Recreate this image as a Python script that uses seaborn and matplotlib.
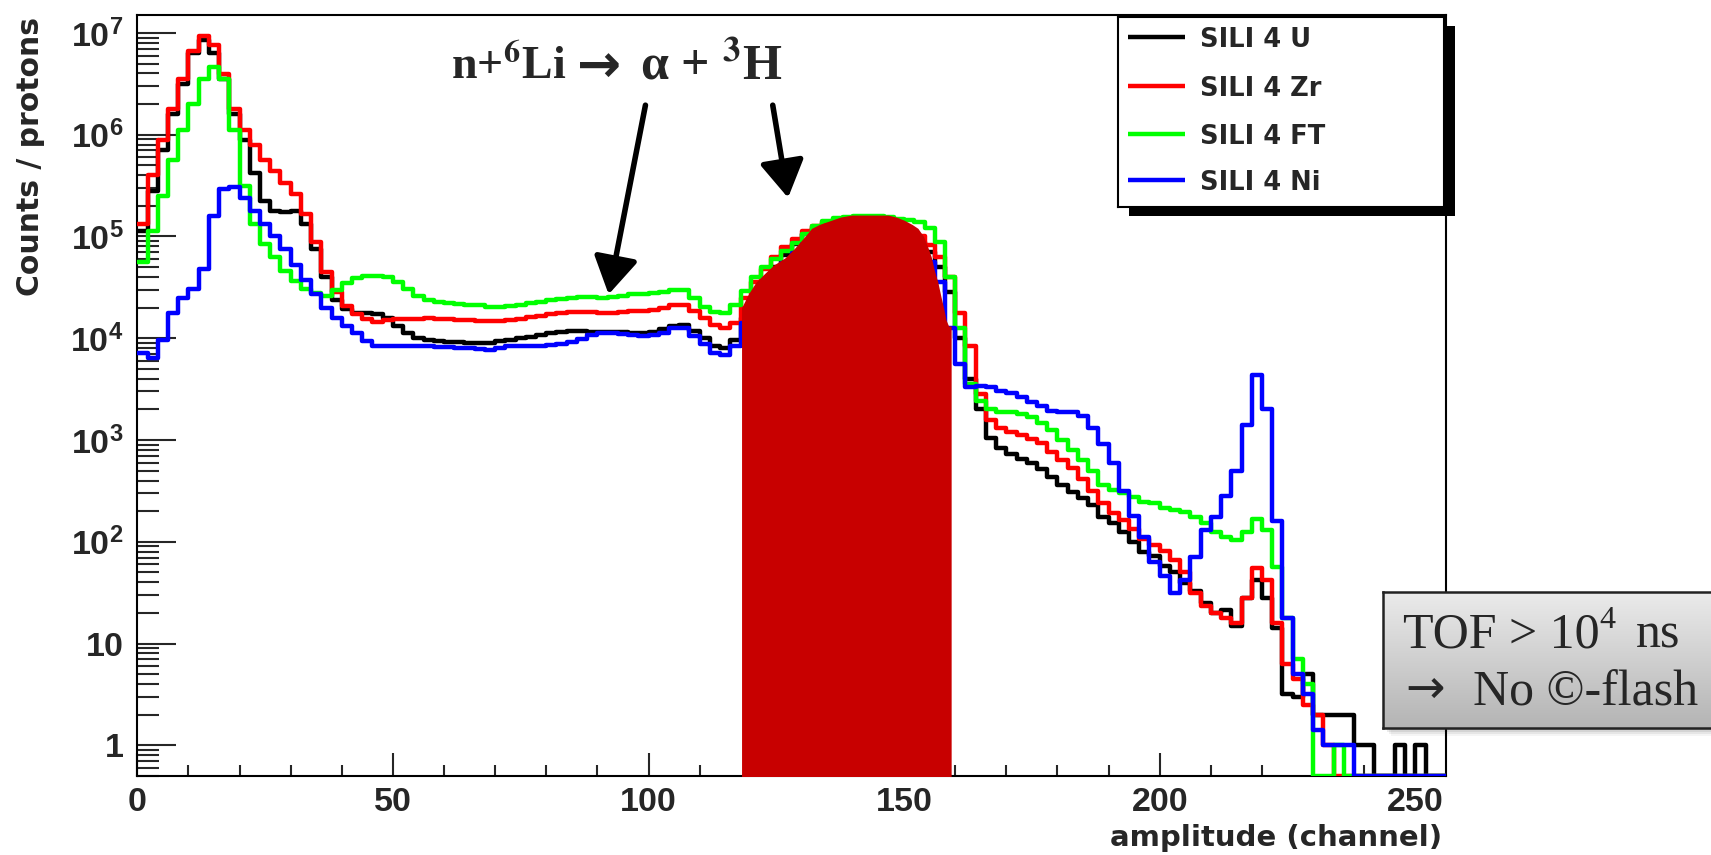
import numpy as np
import pandas as pd
import matplotlib
matplotlib.use("Agg")
import matplotlib.pyplot as plt
import seaborn as sns
from matplotlib.patches import Rectangle
from matplotlib.colors import LinearSegmentedColormap
from matplotlib.ticker import FixedLocator, FixedFormatter, MultipleLocator, LogLocator, NullFormatter

# ---------------- data (log10 of counts/protons per 2-channel bin; None = empty bin) ----------------
Z = None
bin_edges = list(range(0, 257, 2))

u_log = [5.05, 5.45, 5.85, 6.2, 6.5, 6.8, 6.93, 6.8, 6.55, 6.2, 5.95, 5.62, 5.35, 5.25, 5.24, 5.25,
         5.12, 4.88, 4.6, 4.38, 4.29, 4.25, 4.25, 4.24, 4.2, 4.12, 4.05, 4.0, 3.98, 3.97, 3.96, 3.96,
         3.95, 3.95, 3.95, 3.97, 3.98, 4.0, 4.01, 4.03, 4.05, 4.06, 4.07, 4.07, 4.06, 4.06, 4.06, 4.06,
         4.05, 4.05, 4.06, 4.09, 4.12, 4.13, 4.07, 4.0, 3.92, 3.9, 3.98, 4.2, 4.4, 4.55, 4.7, 4.82,
         4.93, 5.02, 5.08, 5.12, 5.14, 5.15, 5.15, 5.15, 5.14, 5.12, 5.08, 5.02, 4.95, 4.85, 4.7, 4.45,
         4.0, 3.6, 3.3, 3.02, 2.92, 2.86, 2.81, 2.77, 2.72, 2.64, 2.56, 2.49, 2.43, 2.36, 2.24, 2.18,
         2.1, 2.0, 1.9, 1.86, 1.76, 1.7, 1.6, 1.52, 1.4, 1.3, 1.33, 1.17, 1.45, 1.62, 1.45, 1.15,
         0.5, 0.48, 0.7, 0.3, 0.3, 0.3, 0.3, 0.0, 0.0, Z, Z, 0.0, Z, 0.0, Z, Z]

zr_log = [5.12, 5.6, 5.95, 6.25, 6.55, 6.82, 6.97, 6.88, 6.6, 6.25, 6.05, 5.9, 5.75, 5.64, 5.53, 5.42,
          5.22, 4.95, 4.65, 4.45, 4.32, 4.24, 4.19, 4.16, 4.18, 4.19, 4.19, 4.19, 4.2, 4.19, 4.19, 4.18,
          4.18, 4.17, 4.17, 4.17, 4.18, 4.19, 4.21, 4.22, 4.24, 4.25, 4.26, 4.26, 4.26, 4.25, 4.25, 4.26,
          4.27, 4.27, 4.28, 4.3, 4.33, 4.33, 4.27, 4.2, 4.13, 4.1, 4.15, 4.4, 4.55, 4.68, 4.8, 4.9,
          4.98, 5.05, 5.1, 5.14, 5.16, 5.17, 5.17, 5.17, 5.16, 5.14, 5.1, 5.05, 5.0, 4.92, 4.8, 4.6,
          4.25, 3.92, 3.45, 3.2, 3.12, 3.08, 3.05, 3.01, 2.97, 2.88, 2.8, 2.73, 2.62, 2.5, 2.38, 2.28,
          2.21, 2.13, 2.03, 1.97, 1.91, 1.82, 1.7, 1.5, 1.37, 1.3, 1.25, 1.2, 1.45, 1.74, 1.62, 1.2,
          0.8, 0.65, 0.4, 0.3, 0.0, Z, Z, Z, Z, Z, Z, Z, Z, Z, Z, Z]

ft_log = [4.75, 5.05, 5.4, 5.75, 6.05, 6.3, 6.55, 6.67, 6.55, 6.05, 5.5, 5.12, 4.93, 4.8, 4.66, 4.56,
          4.48, 4.44, 4.42, 4.47, 4.54, 4.59, 4.61, 4.61, 4.6, 4.55, 4.48, 4.42, 4.38, 4.36, 4.35, 4.34,
          4.33, 4.33, 4.31, 4.31, 4.32, 4.33, 4.35, 4.36, 4.38, 4.39, 4.4, 4.41, 4.41, 4.4, 4.41, 4.42,
          4.43, 4.43, 4.44, 4.45, 4.47, 4.47, 4.4, 4.31, 4.26, 4.25, 4.33, 4.46, 4.6, 4.7, 4.78, 4.86,
          4.94, 5.02, 5.1, 5.15, 5.18, 5.19, 5.2, 5.2, 5.2, 5.19, 5.17, 5.16, 5.14, 5.08, 4.95, 4.6,
          4.1, 3.55, 3.38, 3.3, 3.28, 3.28, 3.26, 3.23, 3.17, 3.1, 3.0, 2.9, 2.8, 2.7, 2.56, 2.51,
          2.48, 2.44, 2.39, 2.38, 2.33, 2.31, 2.29, 2.24, 2.18, 2.1, 2.05, 2.02, 2.1, 2.22, 2.12, 1.75,
          1.25, 0.85, 0.6, Z, Z, 0.0, Z, Z, Z, Z, Z, Z, Z, Z, Z, Z]

ni_log = [3.86, 3.81, 3.98, 4.25, 4.4, 4.48, 4.68, 5.2, 5.47, 5.49, 5.38, 5.25, 5.12, 5.0, 4.88, 4.72,
          4.57, 4.43, 4.3, 4.2, 4.12, 4.05, 3.97, 3.92, 3.92, 3.92, 3.92, 3.92, 3.92, 3.91, 3.91, 3.9,
          3.9, 3.89, 3.88, 3.9, 3.92, 3.92, 3.92, 3.92, 3.93, 3.94, 3.96, 3.99, 4.03, 4.05, 4.05, 4.04,
          4.03, 4.02, 4.03, 4.05, 4.1, 4.1, 4.02, 3.94, 3.86, 3.84, 3.92, 4.15, 4.35, 4.5, 4.62, 4.74,
          4.84, 4.93, 5.0, 5.05, 5.08, 5.1, 5.1, 5.1, 5.09, 5.07, 5.03, 4.97, 4.88, 4.75, 4.55, 4.1,
          3.75, 3.52, 3.53, 3.52, 3.48, 3.46, 3.42, 3.37, 3.33, 3.29, 3.28, 3.28, 3.24, 3.12, 2.96, 2.77,
          2.5, 2.25, 2.05, 1.8, 1.66, 1.5, 1.62, 1.85, 2.12, 2.24, 2.45, 2.7, 3.15, 3.64, 3.3, 2.2,
          1.25, 0.7, 0.5, 0.15, 0.0, 0.0, 0.0, Z, Z, Z, Z, Z, Z, Z, Z, Z]

detectors = ["SILI 4 U", "SILI 4 Zr", "SILI 4 FT", "SILI 4 Ni"]
det_colors = ["#000000", "#ff0000", "#00ff00", "#0000ff"]
det_logs = [u_log, zr_log, ft_log, ni_log]
draw_order = [1, 0, 2, 3]

# highlighted alpha + triton region (red area): channel, log10 of top edge
fill_x = [118.2, 119.6, 121.0, 122.8, 124.5, 126.7, 128.5, 130.6, 131.9, 133.5, 135.8, 137.5, 139.7,
          146.9, 148.5, 150.0, 151.5, 152.7, 153.8, 154.6, 155.3, 155.9, 156.6, 157.2, 157.8, 158.2,
          158.7, 159.2]
fill_top_log = [4.30, 4.44, 4.55, 4.64, 4.72, 4.79, 4.88, 5.00, 5.08, 5.12, 5.16, 5.19, 5.21,
                5.21, 5.19, 5.16, 5.12, 5.08, 5.00, 4.90, 4.80, 4.67, 4.55, 4.41, 4.28, 4.18,
                4.12, 4.12]

y_ticks = [1, 10, 1e2, 1e3, 1e4, 1e5, 1e6, 1e7]
y_ticklabels = ["1", "10", r"$\mathbf{10^{2}}$", r"$\mathbf{10^{3}}$", r"$\mathbf{10^{4}}$",
                r"$\mathbf{10^{5}}$", r"$\mathbf{10^{6}}$", r"$\mathbf{10^{7}}$"]
YMIN, YMAX = 0.5, 1.5e7
XMIN, XMAX = 0, 256

# annotation arrows (channel, counts): start -> tip
arrow1 = ((99.4, 1.95e6), (92.2, 2.7e4))
arrow2 = ((124.3, 1.95e6), (127.3, 2.4e5))

# ---------------- style ----------------
sns.set_style("white")
plt.rcParams.update({
    "font.family": ["Liberation Sans", "DejaVu Sans"],
    "font.weight": "bold",
    "mathtext.fontset": "custom",
    "mathtext.rm": "Liberation Sans:bold",
    "mathtext.bf": "Liberation Sans:bold",
    "mathtext.it": "Liberation Sans:bold",
    "axes.linewidth": 1.5,
})
SERIF = ["Liberation Serif", "DejaVu Serif"]
WIDE = ["DejaVu Sans"]

W, H = 1711, 855
fig = plt.figure(figsize=(W / 100, H / 100), dpi=100)
fig.patch.set_facecolor("white")


def fx(px):
    return px / W


def fy(py):
    return 1 - py / H


ax = fig.add_axes([fx(137.3), fy(776), fx(1446) - fx(137.3), fy(15) - fy(776)])
ax.set_facecolor("white")
ax.set_yscale("log")

centers = [(a + b) / 2 for a, b in zip(bin_edges[:-1], bin_edges[1:])]
for i in draw_order:
    logs = np.array([np.nan if v is None else v for v in det_logs[i]], dtype=float)
    counts = np.where(np.isnan(logs), 0.0, 10 ** logs)
    df = pd.DataFrame({"channel": centers, "counts": np.maximum(counts, YMIN)})
    sns.histplot(data=df, x="channel", weights="counts", bins=bin_edges, element="step",
                 fill=False, color=det_colors[i], linewidth=3.2, ax=ax, zorder=2 + i)

ax.fill_between(fill_x, 0.05, 10 ** np.array(fill_top_log), color="#c80000", linewidth=0, zorder=10)

ax.set_xlim(XMIN, XMAX)
ax.set_ylim(YMIN, YMAX)
ax.set_xlabel("")
ax.set_ylabel("")
for s in ax.spines.values():
    s.set_linewidth(1.5)
    s.set_color("black")
    s.set_visible(True)

ax.xaxis.set_major_locator(MultipleLocator(50))
ax.xaxis.set_minor_locator(MultipleLocator(10))
ax.yaxis.set_major_locator(FixedLocator(y_ticks))
ax.yaxis.set_major_formatter(FixedFormatter(y_ticklabels))
ax.yaxis.set_minor_locator(LogLocator(base=10, subs=np.arange(2, 10), numticks=30))
ax.yaxis.set_minor_formatter(NullFormatter())
ax.tick_params(axis="y", which="major", direction="in", length=28, width=1.5, pad=10,
               labelsize=24.5, left=True, right=False)
ax.tick_params(axis="y", which="minor", direction="in", length=16, width=1.5, left=True, right=False)
ax.tick_params(axis="x", which="major", direction="in", length=16.5, width=1.5, pad=8,
               labelsize=24.5, bottom=True, top=False)
ax.tick_params(axis="x", which="minor", direction="in", length=8, width=1.5, bottom=True, top=False)
for lab in ax.get_xticklabels() + ax.get_yticklabels():
    lab.set_fontweight("bold")

# arrows
for (start, tip) in (arrow1, arrow2):
    ax.annotate("", xy=tip, xytext=start, xycoords="data", textcoords="data",
                arrowprops=dict(arrowstyle="-|>,head_length=0.5,head_width=0.3",
                                mutation_scale=45, color="black", lw=4,
                                shrinkA=0, shrinkB=0), zorder=12)

# axis titles
fig.text(fx(31), fy(17), "Counts / protons", rotation=90, ha="center", va="top",
         fontsize=21.5, fontweight="bold", family=WIDE)
fig.text(fx(1442), fy(838), "amplitude (channel)", ha="right", va="center",
         fontsize=21, fontweight="bold", family=WIDE)

# reaction label (three pieces: nuclei, bold arrow, products)
fig.text(fx(451), fy(79), r"n+$^{\mathbf{6}}$Li", fontsize=33, fontweight="bold", family=SERIF,
         math_fontfamily="stix", va="baseline", ha="left", zorder=20)
fig.text(fx(599), fy(82), "→", fontsize=38, fontweight="bold", family=WIDE,
         va="baseline", ha="center", zorder=20)
fig.text(fx(640), fy(79), r"α + $^{\mathbf{3}}$H", fontsize=36, fontweight="bold", family=SERIF,
         math_fontfamily="stix", va="baseline", ha="left", zorder=20)

# legend (ROOT style with solid shadow)
lx0, lx1, ly0, ly1 = 1118, 1444, 16.7, 207
fig.add_artist(Rectangle((fx(lx0 + 11), fy(ly1 + 9)), fx(lx1) - fx(lx0), fy(ly0) - fy(ly1),
                         transform=fig.transFigure, facecolor="black", edgecolor="none", zorder=4))
lax = fig.add_axes([fx(lx0), fy(ly1), fx(lx1) - fx(lx0), fy(ly0) - fy(ly1)])
lax.set_zorder(5)
lax.set_facecolor("white")
lax.set_xlim(0, 1)
lax.set_ylim(0, 1)
lax.set_xticks([])
lax.set_yticks([])
for s in lax.spines.values():
    s.set_linewidth(1.5)
    s.set_color("black")
row_px = [37, 86, 134, 180]
for i, py in enumerate(row_px):
    yy = (ly1 - py) / (ly1 - ly0)
    lax.plot([0.031, 0.205], [yy, yy], color=det_colors[i], lw=3.2, solid_capstyle="butt")
    lax.text(0.252, (ly1 - py - 3) / (ly1 - ly0), detectors[i], fontsize=18.5, fontweight="bold",
             family=WIDE, va="center", ha="left")

# TOF note box with gradient and soft shadow
bx0, bx1, by0, by1 = 1383, 1725, 592, 728
for k, a in enumerate([0.10, 0.08, 0.06, 0.04]):
    off = 2 + 2 * k
    fig.add_artist(Rectangle((fx(bx0 + off), fy(by1 + off)), fx(bx1) - fx(bx0), fy(by0) - fy(by1),
                             transform=fig.transFigure, facecolor="black", alpha=a,
                             edgecolor="none", zorder=4))
bax = fig.add_axes([fx(bx0), fy(by1), fx(bx1) - fx(bx0), fy(by0) - fy(by1)])
bax.set_zorder(5)
grad = np.linspace(0, 1, 200).reshape(-1, 1)
cmap = LinearSegmentedColormap.from_list("boxgrad", ["#ebebeb", "#b4b4b4"])
bax.imshow(grad, aspect="auto", cmap=cmap, extent=[0, 1, 0, 1], origin="upper")
bax.set_xticks([])
bax.set_yticks([])
for s in bax.spines.values():
    s.set_linewidth(1.8)
    s.set_color("#222222")

note_kw = dict(fontweight="normal", family=SERIF, va="baseline", ha="left", zorder=20)
fig.text(fx(1403), fy(647), "TOF > 10", fontsize=36, **note_kw)
fig.text(fx(1599), fy(628), "4", fontsize=23, **note_kw)
fig.text(fx(1636), fy(647), "ns", fontsize=36, **note_kw)
fig.text(fx(1405), fy(703), "→", fontsize=34, fontweight="normal", family=WIDE,
         va="baseline", ha="left", zorder=20)
fig.text(fx(1473), fy(705), "No ©-flash", fontsize=36, **note_kw)

fig.savefig("out.png", dpi=100, facecolor="white")
